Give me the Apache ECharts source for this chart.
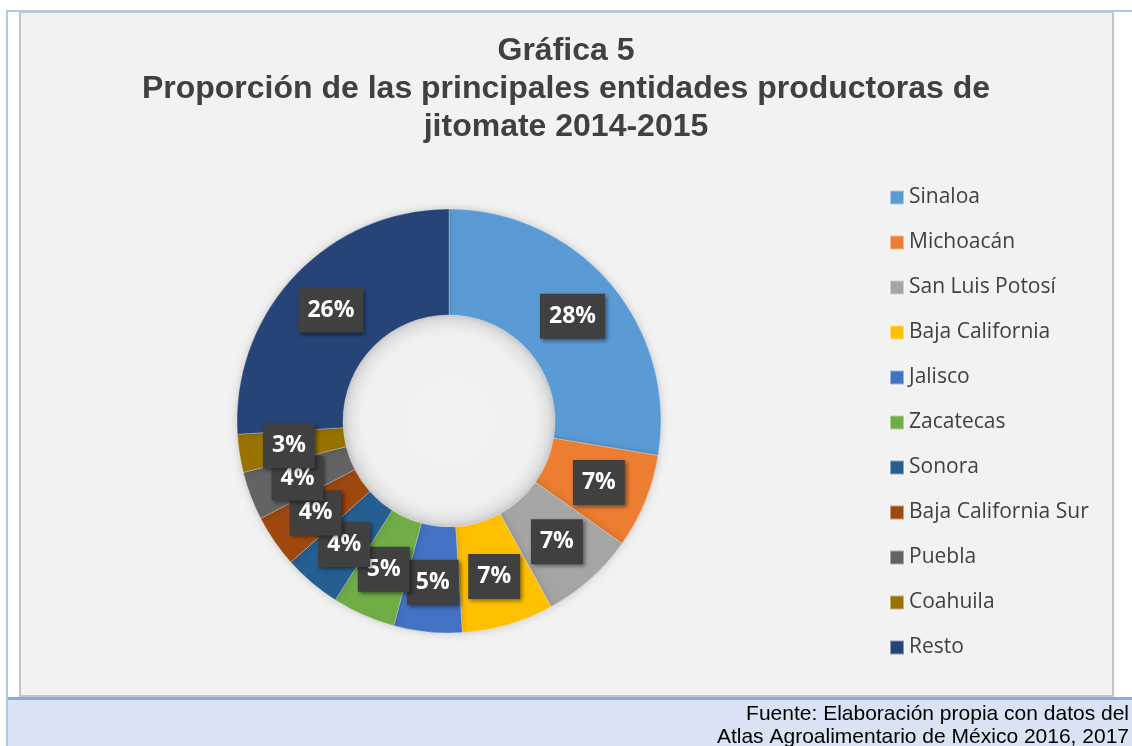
<!DOCTYPE html>
<html>
<head>
<meta charset="utf-8">
<title>Gráfica 5</title>
<script src="https://cdn.jsdelivr.net/npm/echarts@6/dist/echarts.min.js"></script>
<style>
  html, body { margin: 0; padding: 0; background: #fff; }
  #chart { width: 1132px; height: 746px; }
</style>
</head>
<body>
<div id="chart"></div>
<script>
// datos (porcentaje de produccion)
const entidades = [
  "Sinaloa", "Michoacán", "San Luis Potosí", "Baja California", "Jalisco",
  "Zacatecas", "Sonora", "Baja California Sur", "Puebla", "Coahuila", "Resto"
];
const proporcion = [27.6, 7.2, 7.2, 7.0, 5.2, 4.8, 4.4, 4.0, 3.7, 2.9, 26.0];
const colores = [
  "#5b9bd5", "#ed7d31", "#a5a5a5", "#ffc000", "#4472c4",
  "#70ad47", "#255e91", "#9e480e", "#636363", "#997300", "#264478"
];
const tituloLineas = [
  "Gráfica 5",
  "Proporción de las principales entidades productoras de",
  "jitomate 2014-2015"
];
const fuenteLineas = [
  "Fuente: Elaboración propia con datos del",
  "Atlas Agroalimentario de México 2016, 2017"
];

let _chartDom = document.getElementById("chart");
let myChart = echarts.init(_chartDom, null, { renderer: "canvas" });

let _pieData = [];
for (let i = 0; i < entidades.length; i++) {
  _pieData.push({
    name: entidades[i],
    value: proporcion[i],
    itemStyle: { color: colores[i] },
  });
}

myChart.setOption({
  backgroundColor: "#ffffff",
  animation: false,
  // marco y franjas del documento original
  graphic: [
    { type: "rect", shape: { x: 6, y: 10, width: 1126, height: 2 }, style: { fill: "#b4c7e7" } },
    { type: "rect", shape: { x: 6, y: 10, width: 2, height: 736 }, style: { fill: "#b4c7e7" } },
    {
      type: "rect",
      shape: { x: 20, y: 12, width: 1093, height: 684 },
      style: { fill: "#f2f2f2", stroke: "#c4c4c4", lineWidth: 2 },
    },
    { type: "rect", shape: { x: 8, y: 697, width: 1124, height: 49 }, style: { fill: "#dae3f3" } },
    { type: "rect", shape: { x: 8, y: 697, width: 1124, height: 3 }, style: { fill: "#8eaadb" } },
    {
      type: "text",
      x: 1129,
      y: 703,
      style: {
        text: fuenteLineas.join("\n"),
        fill: "#000",
        font: "21px 'Liberation Sans', Arial, sans-serif",
        align: "right",
        verticalAlign: "top",
        lineHeight: 23,
      },
    },
  ],
  title: {
    text: tituloLineas.join("\n"),
    left: 561,
    top: 27,
    textAlign: "center",
    textStyle: {
      fontFamily: "'Liberation Sans', Arial, sans-serif",
      fontWeight: "bold",
      fontSize: 32,
      lineHeight: 38,
      color: "#404040",
    },
  },
  legend: {
    orient: "vertical",
    left: 884,
    top: 182,
    itemWidth: 14,
    itemHeight: 14,
    itemGap: 24,
    icon: "rect",
    data: entidades,
    textStyle: {
      fontFamily: "'Open Sans', 'Noto Sans', sans-serif",
      fontSize: 21,
      lineHeight: 20,
      color: "#404040",
    },
  },
  series: [
    {
      // sombra interior del hueco
      type: "pie",
      silent: true,
      center: [449, 421],
      radius: [0, 106],
      label: { show: false },
      labelLine: { show: false },
      data: [
        {
          value: 1,
          name: "_hueco",
          itemStyle: {
            color: {
              type: "radial",
              x: 0.5, y: 0.5, r: 0.5,
              colorStops: [
                { offset: 0, color: "#f2f2f2" },
                { offset: 0.82, color: "#f0f0f0" },
                { offset: 1, color: "#dcdcdc" },
              ],
            },
          },
        },
      ],
    },
    {
      name: "Proporción",
      type: "pie",
      center: [449, 421],
      radius: [106, 212],
      startAngle: 90,
      clockwise: true,
      avoidLabelOverlap: false,
      itemStyle: {
        borderColor: "rgba(255,255,255,0.45)",
        borderWidth: 0.6,
        shadowBlur: 8,
        shadowColor: "rgba(0,0,0,0.18)",
      },
      label: {
        show: true,
        position: "inside",
        formatter: function (p) {
          return Math.round(p.percent) + "%";
        },
        fontFamily: "'Open Sans', 'Noto Sans', sans-serif",
        fontWeight: "bold",
        fontSize: 23,
        color: "#ffffff",
        backgroundColor: "#404040",
        padding: [12, 9, 10, 9],
        shadowBlur: 4,
        shadowOffsetX: 2,
        shadowOffsetY: 2,
        shadowColor: "rgba(0,0,0,0.45)",
      },
      // las etiquetas se enciman en el original, no ocultarlas
      labelLayout: { hideOverlap: false },
      labelLine: { show: false },
      emphasis: { scale: false },
      data: _pieData,
    },
  ],
});
</script>
</body>
</html>
